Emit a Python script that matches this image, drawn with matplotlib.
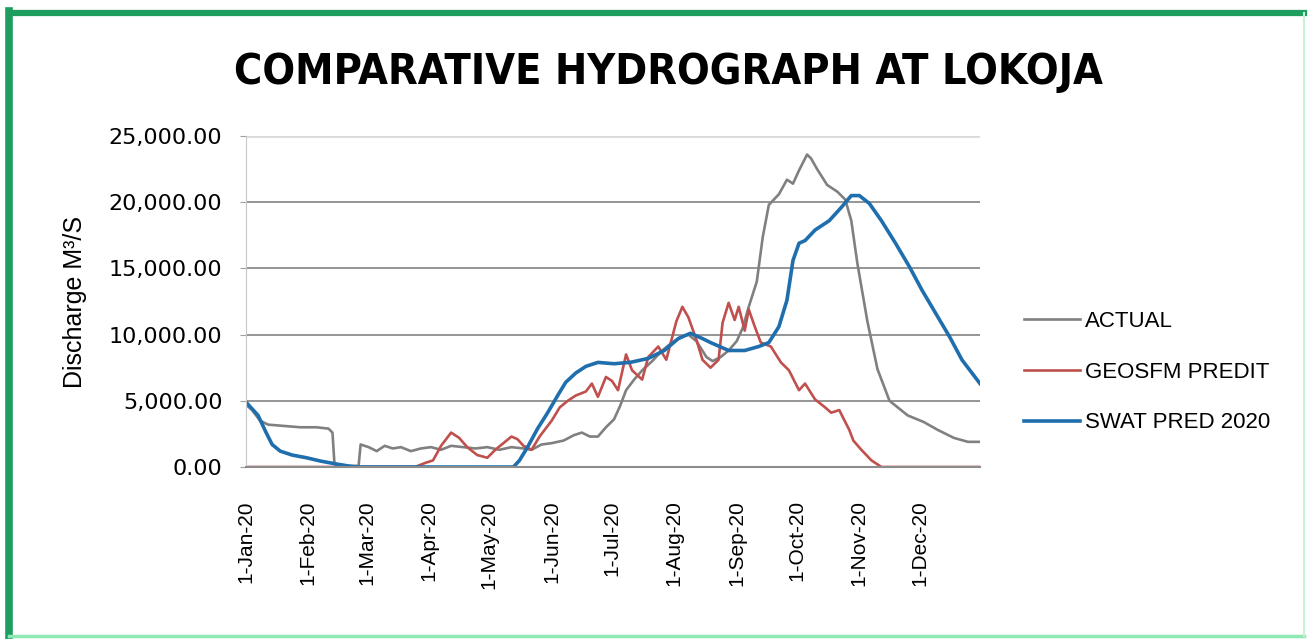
import matplotlib
matplotlib.use("Agg")
import matplotlib.pyplot as plt
import pandas as pd
from matplotlib.lines import Line2D

# ---- data (year 2020) ----
actual_dates = [
    "2020-01-01", "2020-01-04", "2020-01-08", "2020-01-12", "2020-01-20", "2020-01-28",
    "2020-02-05", "2020-02-11", "2020-02-13", "2020-02-14", "2020-02-20", "2020-02-26",
    "2020-02-27", "2020-03-02", "2020-03-06", "2020-03-10", "2020-03-14", "2020-03-18",
    "2020-03-23", "2020-03-28", "2020-04-02", "2020-04-07", "2020-04-12", "2020-04-18",
    "2020-04-24", "2020-04-30", "2020-05-06", "2020-05-12", "2020-05-18", "2020-05-22",
    "2020-05-27", "2020-06-01", "2020-06-07", "2020-06-12", "2020-06-16", "2020-06-20",
    "2020-06-24", "2020-06-28", "2020-07-02", "2020-07-05", "2020-07-08", "2020-07-12",
    "2020-07-16", "2020-07-21", "2020-07-26", "2020-07-30", "2020-08-04", "2020-08-08",
    "2020-08-12", "2020-08-17", "2020-08-20", "2020-08-24", "2020-08-28", "2020-09-01",
    "2020-09-04", "2020-09-07", "2020-09-11", "2020-09-14", "2020-09-17", "2020-09-22",
    "2020-09-26", "2020-09-29", "2020-10-02", "2020-10-06", "2020-10-08", "2020-10-11",
    "2020-10-16", "2020-10-21", "2020-10-25", "2020-10-28", "2020-10-31", "2020-11-05",
    "2020-11-10", "2020-11-16", "2020-11-25", "2020-12-03", "2020-12-10", "2020-12-18",
    "2020-12-25", "2020-12-31",
]
actual_vals = [
    4700, 4300, 3500, 3200, 3100, 3000,
    3000, 2900, 2600, 200, 50, 100,
    1700, 1500, 1200, 1600, 1400, 1500,
    1200, 1400, 1500, 1300, 1600, 1500,
    1400, 1500, 1300, 1500, 1400, 1300,
    1700, 1800, 2000, 2400, 2600, 2300,
    2300, 3000, 3600, 4600, 5800, 6600,
    7300, 8000, 8800, 9300, 9800, 10000,
    9500, 8300, 8000, 8300, 8800, 9500,
    10500, 12100, 14000, 17400, 19800, 20600,
    21700, 21400, 22400, 23600, 23300, 22500,
    21300, 20800, 20200, 18600, 15400, 11000,
    7400, 5000, 3900, 3400, 2800, 2200,
    1900, 1900,
]

geosfm_dates = [
    "2020-01-01", "2020-03-25", "2020-03-30", "2020-04-03", "2020-04-07", "2020-04-12",
    "2020-04-16", "2020-04-20", "2020-04-25", "2020-04-30", "2020-05-04", "2020-05-08",
    "2020-05-12", "2020-05-15", "2020-05-18", "2020-05-22", "2020-05-26", "2020-06-01",
    "2020-06-05", "2020-06-09", "2020-06-13", "2020-06-18", "2020-06-21", "2020-06-24",
    "2020-06-28", "2020-07-01", "2020-07-04", "2020-07-08", "2020-07-11", "2020-07-16",
    "2020-07-19", "2020-07-24", "2020-07-28", "2020-08-02", "2020-08-05", "2020-08-08",
    "2020-08-12", "2020-08-15", "2020-08-19", "2020-08-23", "2020-08-25", "2020-08-28",
    "2020-08-31", "2020-09-02", "2020-09-05", "2020-09-07", "2020-09-10", "2020-09-13",
    "2020-09-18", "2020-09-23", "2020-09-27", "2020-10-02", "2020-10-05", "2020-10-10",
    "2020-10-15", "2020-10-18", "2020-10-22", "2020-10-27", "2020-10-29", "2020-11-02",
    "2020-11-07", "2020-11-12", "2020-12-31",
]
geosfm_vals = [
    0, 0, 300, 500, 1600, 2600,
    2200, 1500, 900, 700, 1300, 1800,
    2300, 2100, 1600, 1300, 2300, 3500,
    4500, 5000, 5400, 5700, 6300, 5300,
    6800, 6500, 5800, 8500, 7300, 6600,
    8300, 9100, 8100, 11000, 12100, 11300,
    9600, 8100, 7500, 8100, 10900, 12400,
    11100, 12100, 10300, 11900, 10600, 9400,
    9100, 7900, 7300, 5800, 6300, 5100,
    4500, 4100, 4300, 2800, 2000, 1300,
    500, 0, 0,
]

swat_dates = [
    "2020-01-01", "2020-01-04", "2020-01-07", "2020-01-11", "2020-01-14", "2020-01-18",
    "2020-01-24", "2020-01-31", "2020-02-07", "2020-02-14", "2020-02-20", "2020-02-25",
    "2020-05-13", "2020-05-16", "2020-05-20", "2020-05-25", "2020-05-30", "2020-06-04",
    "2020-06-08", "2020-06-13", "2020-06-18", "2020-06-24", "2020-07-02", "2020-07-10",
    "2020-07-19", "2020-07-27", "2020-08-03", "2020-08-09", "2020-08-15", "2020-08-19",
    "2020-08-28", "2020-09-05", "2020-09-12", "2020-09-17", "2020-09-22", "2020-09-26",
    "2020-09-29", "2020-10-02", "2020-10-05", "2020-10-10", "2020-10-17", "2020-10-23",
    "2020-10-28", "2020-11-01", "2020-11-06", "2020-11-12", "2020-11-19", "2020-11-26",
    "2020-12-02", "2020-12-09", "2020-12-16", "2020-12-22", "2020-12-31",
]
swat_vals = [
    4900, 4400, 3900, 2600, 1700, 1200,
    900, 700, 450, 250, 100, 0,
    0, 500, 1500, 2900, 4100, 5400,
    6400, 7100, 7600, 7900, 7800, 7900,
    8200, 8800, 9700, 10100, 9700, 9400,
    8800, 8800, 9100, 9400, 10600, 12600,
    15600, 16900, 17100, 17900, 18600, 19600,
    20500, 20500, 19900, 18600, 16900, 15100,
    13400, 11600, 9800, 8100, 6300,
]

tick_dates = [
    "2020-01-01", "2020-02-01", "2020-03-01", "2020-04-01", "2020-05-01", "2020-06-01",
    "2020-07-01", "2020-08-01", "2020-09-01", "2020-10-01", "2020-11-01", "2020-12-01",
]
tick_labels = [
    "1-Jan-20", "1-Feb-20", "1-Mar-20", "1-Apr-20", "1-May-20", "1-Jun-20",
    "1-Jul-20", "1-Aug-20", "1-Sep-20", "1-Oct-20", "1-Nov-20", "1-Dec-20",
]
y_ticks = [0, 5000, 10000, 15000, 20000, 25000]

W, H = 1308, 639


def make_chart():
    plt.rcParams["font.family"] = ["Liberation Sans", "DejaVu Sans"]

    fig = plt.figure(figsize=(W / 100, H / 100), dpi=100)
    fig.patch.set_facecolor("white")

    # green frame around the whole picture
    fig.add_artist(Line2D([10 / W, 1304 / W], [1 - 13 / H, 1 - 13 / H],
                          transform=fig.transFigure, color="#1e9e5e", lw=4.5))
    fig.add_artist(Line2D([9 / W, 9 / W], [1 - 11 / H, 1 - 637 / H],
                          transform=fig.transFigure, color="#1e9e5e", lw=5.5))
    fig.add_artist(Line2D([9 / W, 1304 / W], [1 - 636 / H, 1 - 636 / H],
                          transform=fig.transFigure, color="#8fe8b4", lw=2.5))
    fig.add_artist(Line2D([1304 / W, 1304 / W], [1 - 13 / H, 1 - 636 / H],
                          transform=fig.transFigure, color="#c8f2d8", lw=1.5))

    ax = fig.add_axes([246 / W, 1 - 467 / H, (980 - 246) / W, (467 - 136) / H])

    ax.plot(pd.to_datetime(actual_dates), actual_vals, color="#808080", lw=1.9, label="ACTUAL")
    ax.plot(pd.to_datetime(geosfm_dates), geosfm_vals, color="#c0504d", lw=1.9, label="GEOSFM PREDIT")
    ax.plot(pd.to_datetime(swat_dates), swat_vals, color="#1f6fae", lw=2.6, label="SWAT PRED 2020")

    ax.set_xlim(pd.Timestamp("2020-01-01"), pd.Timestamp("2020-12-31"))
    ax.set_ylim(0, 25000)

    ax.set_yticks(y_ticks)
    ax.set_yticklabels([f"{v:,.2f}" for v in y_ticks], fontsize=16, family="DejaVu Sans")
    ax.set_xticks(pd.to_datetime(tick_dates))
    ax.set_xticklabels(tick_labels, rotation=90, fontsize=15)
    ax.tick_params(axis="y", length=4, color="#a0a0a0", pad=13)
    ax.tick_params(axis="x", length=0, pad=24)

    for v in y_ticks[1:-1]:
        ax.axhline(v, color="#8c8c8c", lw=1.3, zorder=0)
    ax.axhline(25000, color="#d9d9d9", lw=2.0, zorder=0)

    for side in ["top", "right"]:
        ax.spines[side].set_visible(False)
    ax.spines["left"].set_color("#c8c8c8")
    ax.spines["bottom"].set_color("#8c8c8c")
    ax.spines["bottom"].set_linewidth(1.5)

    ax.set_ylabel("Discharge M³/S", fontsize=18, labelpad=16)

    fig.text(668 / W, 1 - 72 / H, "COMPARATIVE HYDROGRAPH AT LOKOJA",
             ha="center", va="center", fontsize=31, fontweight="bold",
             fontstretch="condensed", family="DejaVu Sans")

    ax.legend(loc="center left", bbox_to_anchor=(1.06, 0.287), frameon=False,
              fontsize=16, handlelength=2.5, handletextpad=0.25, labelspacing=1.34,
              borderpad=0, borderaxespad=0)

    fig.savefig("out.png", dpi=100)
    plt.close(fig)


if __name__ == "__main__":
    make_chart()
